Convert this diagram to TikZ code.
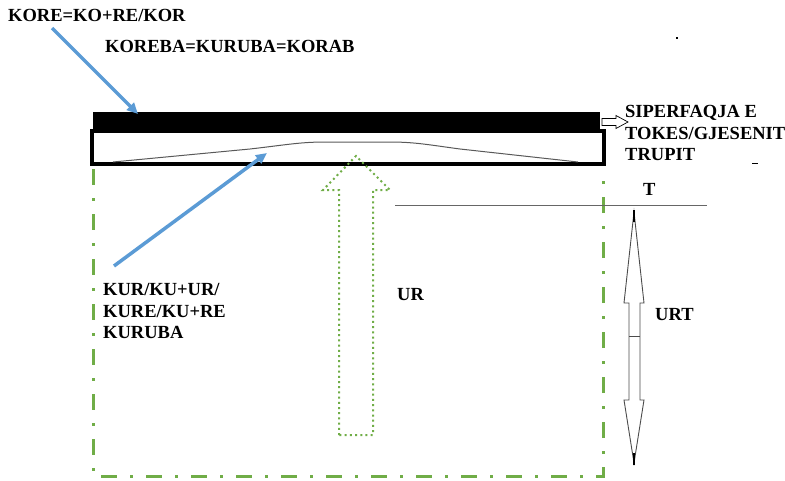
\documentclass[tikz,border=0pt]{standalone}
\usepackage{fontspec}
\setmainfont{Liberation Serif}
\newfontfamily\lblfont{Liberation Serif}[BoldFont={Liberation Serif Bold}]
\usetikzlibrary{arrows.meta,positioning}
\definecolor{pointblue}{HTML}{5B9BD5}
\definecolor{bodygreen}{HTML}{70AD47}
\begin{document}
\begin{tikzpicture}[x=1pt,y=-1pt,
	lbl/.style={font=\lblfont\fontsize{18.5}{21.5}\selectfont\bfseries, inner sep=0pt, anchor=west, align=left},
	pointer/.style={draw=pointblue, line width=3.5pt, -{Triangle[length=11pt,width=10pt]}},
	outline/.style={draw=bodygreen, line width=3pt, dash pattern=on 16pt off 13pt on 3pt off 13pt},
	flow/.style={draw=bodygreen, line width=2pt, dash pattern=on 2pt off 3.2pt}]
				\useasboundingbox (0,0) rectangle (785,480);
				%\draw[color=gray,step=10pt, help lines,opacity=0.3] (0,0) grid (785,480); %help grids
				% top layer and body box
				\fill (93,112) rectangle (600,129);
				\draw[line width=3.5pt] (92,131) rectangle (604,164);
				\draw[gray!70!black, line width=1pt] (113,162) -- (250,149) .. controls (285,145) and (300,142) .. (325,142) -- (390,142) .. controls (415,142) and (430,145) .. (460,149) -- (578,162);
				% body outline
				\draw[outline] (93,169) -- (93,476) -- (603,476) -- (603,169);
				% rising arrow
				\draw[flow] (339,435) -- (339,190) -- (323,190) -- (356,156) -- (390,190) -- (373,190) -- (373,435) -- cycle;
				% level line and double arrow
				\coordinate (tl) at (395,205);
				\coordinate (tr) at (707,205);
				\draw[gray!80!black, line width=1pt] (tl) -- (tr);
				\draw[gray!60!black, fill=white, line width=0.9pt] (634,212) -- (644,303) -- (640,303) -- (640,400) -- (644,400) -- (634,463) -- (624,400) -- (629,400) -- (629,303) -- (624,303) -- cycle;
				\draw[gray!60!black, line width=0.9pt] (629,336) -- (640,336);
				\draw[line width=1.2pt] (634,210) -- (634,222);
				\draw[line width=1.2pt] (634,453) -- (634,465);
				% small white arrow
				\draw[fill=white, line width=0.7pt] (602,118.5) -- (616,118.5) -- (616,115.5) -- (628,122) -- (616,128.5) -- (616,125.5) -- (602,125.5) -- cycle;
				% labels
				\node[lbl] (kore) at (8,15) {KORE=KO+RE/KOR};
				\node[lbl] (koreba) at (105,46) {KOREBA=KURUBA=KORAB};
				\node[lbl] (siper) at (625,133) {SIPERFAQJA E\\TOKES/GJESENIT\\TRUPIT};
				\node[lbl] (kur) at (103,311) {KUR/KU+UR/\\KURE/KU+RE\\KURUBA};
				\node[lbl] (ur) at (397,295) {UR};
				\node[lbl] (urt) at (655,315) {URT};
				\node[lbl] (t) at (643,189) {T};
				% pointers
				\coordinate (koretail) at (52,28);
				\coordinate (layer) at (138,114);
				\coordinate (kurtail) at (114,266);
				\coordinate (arch) at (267,153);
				\draw[pointer] (koretail) -- (layer);
				\draw[pointer] (kurtail) -- (arch);
				% stray marks
				\draw[line width=1pt] (752,163) -- (758,163);
				\fill (676,37) rectangle (678,39);
\end{tikzpicture}
\end{document}
